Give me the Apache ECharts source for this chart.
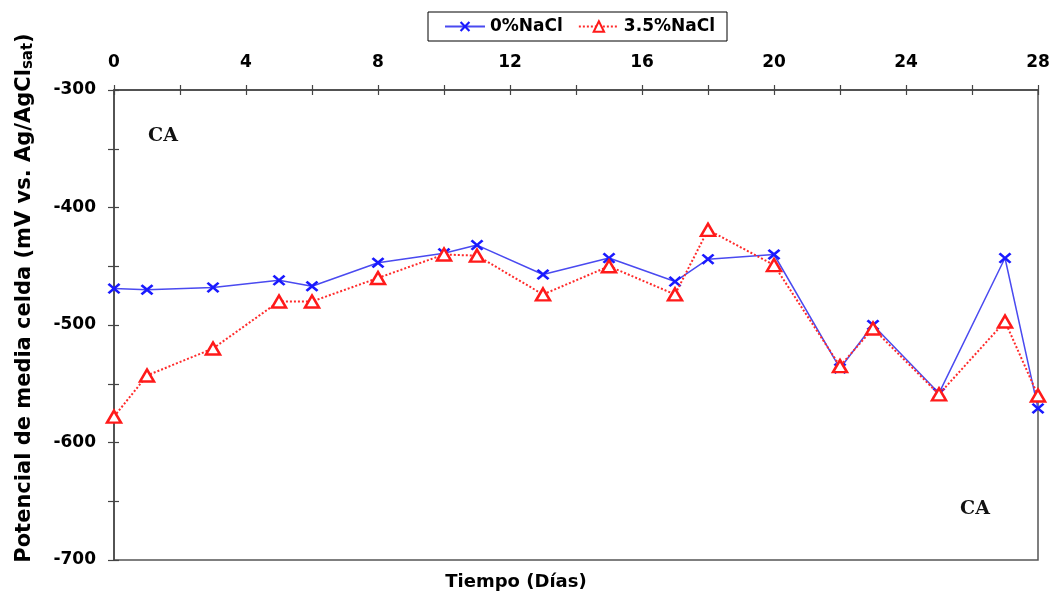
<!DOCTYPE html>
<html>
<head>
<meta charset="utf-8">
<script src="https://cdn.jsdelivr.net/npm/echarts@6/dist/echarts.min.js"></script>
<style>html,body{margin:0;padding:0;background:#fff;}#c{width:1053px;height:594px;}</style>
</head>
<body>
<div id="c"></div>
<script>
const days = [0, 1, 3, 5, 6, 8, 10, 11, 13, 15, 17, 18, 20, 22, 23, 25, 27, 28];
const nacl0 = [-469, -470, -468, -462, -467, -447, -439, -432, -457, -443, -463, -444, -440, -537, -500, -558, -443, -571];
const nacl35 = [-578, -543, -520, -480, -480, -460, -440, -441, -474, -450, -474, -419, -449, -535, -503, -559, -497, -560];
const seriesNames = ['0%NaCl', '3.5%NaCl'];
const xTicks = [0, 4, 8, 12, 16, 20, 24, 28];
const yTicks = [-300, -400, -500, -600, -700];

const FONT = 'DejaVu Sans';
const xPath = 'path://M0,1.5 L1.5,0 L5,3.5 L8.5,0 L10,1.5 L6.5,5 L10,8.5 L8.5,10 L5,6.5 L1.5,10 L0,8.5 L3.5,5 Z';

const chart = echarts.init(document.getElementById('c'), null, {renderer: 'canvas'});

const xBase = {
  type: 'value', min: 0, max: 28, interval: 2, position: 'top',
  splitLine: {show: false}
};
const yBase = {
  type: 'value', min: -700, max: -300, interval: 50, position: 'left',
  splitLine: {show: false}
};

chart.setOption({
  animation: false,
  backgroundColor: '#fff',
  grid: {left: 114, right: 15, top: 90, bottom: 34, show: true, borderColor: '#555', borderWidth: 1.5, backgroundColor: 'transparent'},
  legend: {
    data: seriesNames,
    left: 428, top: 12,
    borderColor: '#000', borderWidth: 1,
    padding: [6, 12, 6, 16],
    itemWidth: 40, itemHeight: 13, itemGap: 15,
    textStyle: {fontFamily: FONT, fontWeight: 'bold', fontSize: 17, color: '#000'}
  },
  xAxis: [
    Object.assign({}, xBase, {
      axisLine: {show: true, lineStyle: {color: '#444', width: 1.5}},
      axisTick: {show: true, inside: false, length: 5, lineStyle: {color: '#444', width: 1.2}},
      axisLabel: {
        margin: 19, fontFamily: FONT, fontWeight: 'bold', fontSize: 17, color: '#000',
        formatter: v => xTicks.indexOf(v) >= 0 ? String(v) : ''
      }
    }),
    Object.assign({}, xBase, {
      axisLine: {show: false},
      axisTick: {show: true, inside: true, length: 5, lineStyle: {color: '#444', width: 1.2}},
      axisLabel: {show: false}
    })
  ],
  yAxis: [
    Object.assign({}, yBase, {
      axisLine: {show: true, lineStyle: {color: '#444', width: 1.5}},
      axisTick: {show: true, inside: false, length: 6, lineStyle: {color: '#444', width: 1.2}},
      axisLabel: {
        margin: 18, fontFamily: FONT, fontWeight: 'bold', fontSize: 17, color: '#000',
        formatter: v => yTicks.indexOf(v) >= 0 ? String(v) : ''
      }
    }),
    Object.assign({}, yBase, {
      axisLine: {show: false},
      axisTick: {show: true, inside: true, length: 5, lineStyle: {color: '#444', width: 1.2}},
      axisLabel: {show: false}
    })
  ],
  series: [
    {
      name: seriesNames[0], type: 'line',
      xAxisIndex: 0, yAxisIndex: 0,
      data: days.map((d, i) => [d, nacl0[i]]),
      symbol: xPath, symbolSize: [13, 11],
      itemStyle: {color: '#1a1aff'},
      lineStyle: {color: '#4a4af0', width: 1.5, type: 'solid'},
      z: 3
    },
    {
      name: seriesNames[1], type: 'line',
      xAxisIndex: 0, yAxisIndex: 0,
      data: days.map((d, i) => [d, nacl35[i]]),
      symbol: 'triangle', symbolSize: [14, 12],
      itemStyle: {color: '#fff', borderColor: '#ff1a1a', borderWidth: 2.5},
      lineStyle: {color: '#ff2a2a', width: 2, type: 'dotted'},
      z: 4
    }
  ],
  graphic: [
    {type: 'text', x: 163, y: 136, style: {text: 'CA', font: 'bold 19px "DejaVu Serif"', fill: '#111', align: 'center', verticalAlign: 'middle'}},
    {type: 'text', x: 975, y: 509, style: {text: 'CA', font: 'bold 19px "DejaVu Serif"', fill: '#111', align: 'center', verticalAlign: 'middle'}},
    {type: 'text', x: 516, y: 582, style: {text: 'Tiempo (Días)', font: 'bold 18px "DejaVu Sans"', fill: '#000', align: 'center', verticalAlign: 'middle'}},
    {
      type: 'text', x: 25, y: 298, rotation: Math.PI / 2,
      style: {
        text: '{a|Potencial de media celda (mV vs. Ag/AgCl}{b|sat}{a|)}',
        align: 'center', verticalAlign: 'middle',
        rich: {
          a: {fontFamily: FONT, fontWeight: 'bold', fontSize: 21, fill: '#000', color: '#000'},
          b: {fontFamily: FONT, fontWeight: 'bold', fontSize: 15, fill: '#000', color: '#000', padding: [6, 0, 0, 0]}
        }
      }
    }
  ]
});
</script>
</body>
</html>
